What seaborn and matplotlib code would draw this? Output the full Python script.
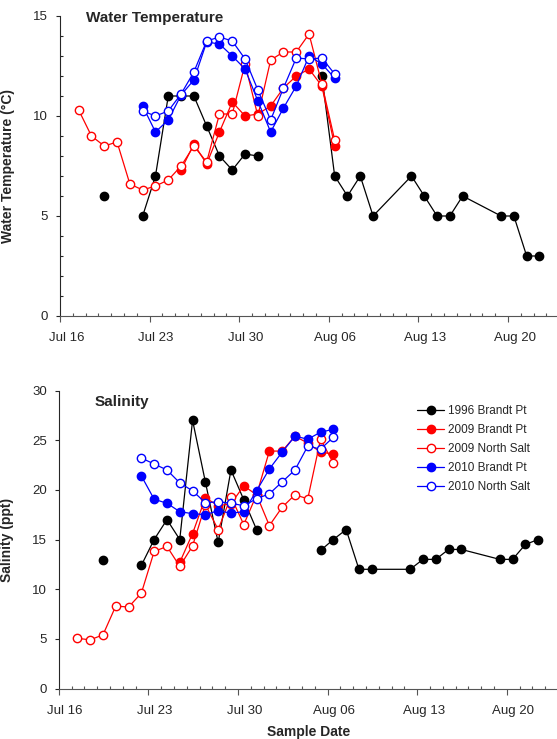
import numpy as np
import pandas as pd
import matplotlib
matplotlib.use("Agg")
import matplotlib.pyplot as plt
import matplotlib.dates as mdates
import matplotlib.transforms as mtransforms
from matplotlib.lines import Line2D
import seaborn as sns

sns.set_style("ticks")
plt.rcParams['font.family'] = ['Liberation Sans', 'DejaVu Sans']

nan = np.nan

# 1996 Brandt Pt (same sample dates for both panels)
d96 = ["07-19", "07-20", "07-22", "07-23", "07-24", "07-25", "07-26", "07-27", "07-28",
       "07-29", "07-30", "07-31", "08-01", "08-05", "08-06", "08-07", "08-08", "08-09",
       "08-12", "08-13", "08-14", "08-15", "08-16", "08-19", "08-20", "08-21", "08-22"]
temp96 = [6.0, nan, 5.0, 7.0, 11.0, 11.0, 11.0, 9.5, 8.0, 7.3, 8.1, 8.0, nan, 12.0, 7.0,
          6.0, 7.0, 5.0, 7.0, 6.0, 5.0, 5.0, 6.0, 5.0, 5.0, 3.0, 3.0]
sal96 = [12.9, nan, 12.4, 15.0, 17.0, 15.0, 27.0, 20.8, 14.7, 22.0, 19.0, 16.0, nan, 13.9,
         15.0, 16.0, 12.0, 12.0, 12.0, 13.0, 13.0, 14.0, 14.0, 13.0, 13.0, 14.5, 15.0]

# 2009 Brandt Pt
d09b = ["07-25", "07-26", "07-27", "07-28", "07-29", "07-30", "07-31", "08-01", "08-02",
        "08-03", "08-04", "08-05", "08-06"]
temp09b = [7.3, 8.6, 7.6, 9.2, 10.7, 10.0, 10.1, 10.5, 11.4, 12.0, 12.35, 11.5, 8.5]
sal09b = [12.7, 15.6, 19.2, 18.4, 18.6, 20.4, 19.5, 23.9, 23.9, 25.4, 24.7, 23.8, 23.6]

# 2009 North Salt
d09n = ["07-17", "07-18", "07-19", "07-20", "07-21", "07-22", "07-23", "07-24", "07-25",
        "07-26", "07-27", "07-28", "07-29", "07-30", "07-31", "08-01", "08-02", "08-03",
        "08-04", "08-05", "08-06"]
temp09n = [10.3, 9.0, 8.5, 8.7, 6.6, 6.3, 6.5, 6.8, 7.5, 8.5, 7.7, 10.1, 10.1, 12.6, 10.0,
           12.8, 13.2, 13.2, 14.1, 11.6, 8.8]
sal09n = [5.05, 4.9, 5.4, 8.3, 8.2, 9.6, 13.8, 14.3, 12.3, 14.35, 18.5, 16.0, 19.3, 16.5,
          19.5, 16.4, 18.25, 19.5, 19.1, 25.1, 22.7]

# 2010 Brandt Pt
d10 = ["07-22", "07-23", "07-24", "07-25", "07-26", "07-27", "07-28", "07-29", "07-30",
       "07-31", "08-01", "08-02", "08-03", "08-04", "08-05", "08-06"]
temp10b = [10.5, 9.2, 9.8, 11.05, 11.8, 13.7, 13.6, 13.0, 12.35, 10.75, 9.2, 10.4, 11.5,
           13.0, 12.6, 11.9]
sal10b = [21.4, 19.05, 18.65, 17.8, 17.6, 17.5, 17.9, 17.65, 17.8, 19.9, 22.1, 23.8, 25.4,
          25.1, 25.8, 26.1]

# 2010 North Salt
temp10n = [10.25, 10.0, 10.25, 11.1, 12.2, 13.75, 13.95, 13.75, 12.85, 11.3, 9.8, 11.4,
           12.9, 12.85, 12.9, 12.1]
sal10n = [23.2, 22.6, 22.0, 20.7, 19.9, 18.7, 18.8, 18.65, 18.4, 19.1, 19.6, 20.8, 22.0,
          24.4, 24.1, 25.3]

labels = ["1996 Brandt Pt", "2009 Brandt Pt", "2009 North Salt", "2010 Brandt Pt",
          "2010 North Salt"]
colors = ["black", "red", "red", "blue", "blue"]
filled = [True, True, False, True, False]
dates = [d96, d09b, d09n, d10, d10]
temps = [temp96, temp09b, temp09n, temp10b, temp10n]
sals = [sal96, sal09b, sal09n, sal10b, sal10n]


def to_frame(ds, vals):
    df = pd.DataFrame({"date": pd.to_datetime(["2000-" + d for d in ds]) + pd.Timedelta(hours=11),
                       "val": vals})
    df["seg"] = df["val"].isna().cumsum()
    return df.dropna()


fig = plt.figure(figsize=(5.57, 7.39), dpi=100)
ax1 = fig.add_axes([60 / 557, (739 - 316) / 739, 499.2 / 557, 300 / 739])
ax2 = fig.add_axes([58.7 / 557, (739 - 688.5) / 739, 499.2 / 557, 298 / 739])

for ax, series in [(ax1, temps), (ax2, sals)]:
    for lab, c, f, ds, vals in zip(labels, colors, filled, dates, series):
        df = to_frame(ds, vals)
        sns.lineplot(data=df, x="date", y="val", units="seg", estimator=None, ax=ax,
                     color=c, marker="o", markersize=6, markerfacecolor=c if f else "white",
                     markeredgecolor=c, markeredgewidth=1, linewidth=0.9)

for ax in [ax1, ax2]:
    sns.despine(ax=ax)
    ax.set_xlim(pd.Timestamp("2000-07-16"), pd.Timestamp("2000-08-24"))
    ax.set_xticks(pd.date_range("2000-07-16", "2000-08-20", freq="7D"))
    ax.set_xticks(pd.date_range("2000-07-16", "2000-08-24", freq="D"), minor=True)
    ax.xaxis.set_major_formatter(mdates.DateFormatter("%b %d"))
    ax.tick_params(axis="x", which="major", direction="out", length=4.3, width=0.8,
                   pad=7.5, labelsize=9.5, color="#555555")
    ax.tick_params(axis="x", which="minor", direction="in", length=2.2, width=0.8,
                   color="#555555")
    ax.tick_params(axis="y", which="major", direction="out", length=3, width=0.8,
                   pad=5.5, labelsize=9.5)
    ax.tick_params(axis="y", which="minor", direction="in", length=2.2, width=0.8)
    ax.spines["left"].set_linewidth(0.8)
    ax.spines["bottom"].set_linewidth(0.8)
    ax.spines["bottom"].set_color("#555555")
    ax.set_xlabel("")

ax1.set_ylim(0, 15)
ax1.set_yticks([0, 5, 10, 15])
ax1.set_yticks(np.arange(0, 16, 1), minor=True)
ax1.set_ylabel("Water Temperature (°C)", fontsize=10, fontweight="bold")
ax1.yaxis.set_label_coords(-0.09, 0.5)
ax1.text(0.053, 0.992, "Water Temperature", transform=ax1.transAxes, fontsize=11,
         fontweight="bold", va="center", ha="left")

ax2.set_ylim(0, 30)
ax2.set_yticks(np.arange(0, 31, 5))
ax2.set_ylabel("Salinity (ppt)", fontsize=10, fontweight="bold")
ax2.yaxis.set_label_coords(-0.09, 0.5)
ax2.set_xlabel("Sample Date", fontsize=10, fontweight="bold", labelpad=6)
ax2.text(0.0727, 0.963, "Salinity", transform=ax2.transAxes, fontsize=11,
         fontweight="bold", va="center", ha="left")

handles = [Line2D([], [], color=c, marker="o", markersize=6, linewidth=0.9,
                  markerfacecolor=c if f else "white", markeredgecolor=c, markeredgewidth=1)
           for c, f in zip(colors, filled)]
ax2.legend(handles, labels, loc="upper left", bbox_to_anchor=(0.718, 0.952), frameon=False,
           fontsize=8.5, borderpad=0, borderaxespad=0, labelspacing=0.6, handlelength=2.3,
           handletextpad=0.3)

offset = mtransforms.ScaledTranslation(0.065, 0, fig.dpi_scale_trans)
for ax in [ax1, ax2]:
    for lab in ax.get_xticklabels():
        lab.set_transform(lab.get_transform() + offset)

fig.savefig("out.png", dpi=100)
